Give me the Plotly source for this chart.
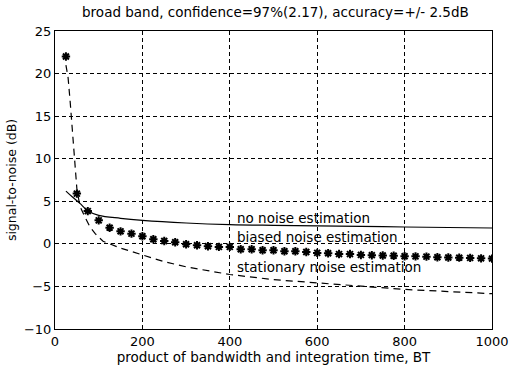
import plotly.graph_objects as go

# Biased noise estimation (stars)
bt_biased = list(range(25, 1001, 25))
snr_biased = [22.0, 5.9, 3.85, 2.76, 1.9, 1.47, 1.2, 0.89, 0.54, 0.34,
              0.19, -0.05, -0.16, -0.28, -0.36, -0.36, -0.63, -0.63, -0.75, -0.75,
              -0.87, -0.87, -0.95, -1.06, -1.1, -1.2, -1.2, -1.3, -1.33, -1.37,
              -1.4, -1.45, -1.47, -1.5, -1.57, -1.6, -1.62, -1.65, -1.7, -1.73]

# No noise estimation (solid)
bt_none = [25, 40, 57, 75, 100, 150, 200, 300, 400, 500, 600, 700, 800, 900, 1000]
snr_none = [6.2, 5.5, 4.75, 3.9, 3.35, 3.0, 2.76, 2.45, 2.26, 2.18, 2.12, 2.05, 1.98, 1.92, 1.86]

# Stationary noise estimation (dashed)
bt_stat = [25, 30, 35, 40, 45, 50, 55, 60, 70, 80, 92, 110, 150, 200, 250, 300, 400, 500, 600, 700, 800, 900, 1000]
snr_stat = [21.0, 19.5, 16.5, 13.5, 10.0, 6.5, 5.0, 4.1, 3.0, 2.0, 1.2, 0.3, -0.5, -1.33, -2.1, -2.7, -3.6, -4.2, -4.6, -5.0, -5.35, -5.6, -5.85]

x_ticks = [0, 200, 400, 600, 800, 1000]
y_ticks = [-10, -5, 0, 5, 10, 15, 20, 25]

FONT = "DejaVu Sans, Arial, sans-serif"

fig = go.Figure()
fig.add_trace(go.Scatter(x=bt_none, y=snr_none, mode="lines",
                         line=dict(color="black", width=1.2), line_shape="spline",
                         showlegend=False))
fig.add_trace(go.Scatter(x=bt_stat, y=snr_stat, mode="lines",
                         line=dict(color="black", width=1.2, dash="7px,5px"),
                         showlegend=False))
fig.add_trace(go.Scatter(x=bt_biased, y=snr_biased, mode="markers",
                         marker=dict(symbol="asterisk-open", size=7, color="black",
                                     line=dict(color="black", width=2)),
                         showlegend=False))

annots = [("no noise estimation", 3.0), ("biased noise estimation", 0.8),
          ("stationary noise estimation", -2.7)]
for txt, yv in annots:
    fig.add_annotation(x=412, y=yv, text=txt, showarrow=False, xanchor="left",
                       yanchor="middle", font=dict(family=FONT, size=13.5, color="black"))

axis_common = dict(showline=True, linecolor="black", linewidth=1, mirror=True,
                   showgrid=True, gridcolor="black", gridwidth=1, griddash="4px,3px",
                   zeroline=False, ticks="inside", ticklen=4, tickcolor="black",
                   automargin=False,
                   tickfont=dict(family=FONT, size=13, color="black"))

fig.update_layout(
    width=510, height=368,
    margin=dict(l=55, r=18, t=31, b=39),
    paper_bgcolor="white", plot_bgcolor="white",
    title=dict(text="broad band, confidence=97%(2.17), accuracy=+/- 2.5dB",
               x=0.54, xanchor="center", y=0.98, yanchor="top",
               font=dict(family=FONT, size=13.5, color="black")),
    xaxis=dict(range=[0, 1000], tickvals=x_ticks,
               title=dict(text="product of bandwidth and integration time, BT",
                          font=dict(family=FONT, size=13.5, color="black"), standoff=0),
               **axis_common),
    yaxis=dict(range=[-10, 25], tickvals=y_ticks,
               title=dict(text="signal-to-noise (dB)",
                          font=dict(family=FONT, size=12.5, color="black"), standoff=4),
               **axis_common),
)

fig.write_html("out.html", config={"displayModeBar": False},
               post_script="document.body.style.margin='0';document.body.style.overflow='hidden';")
